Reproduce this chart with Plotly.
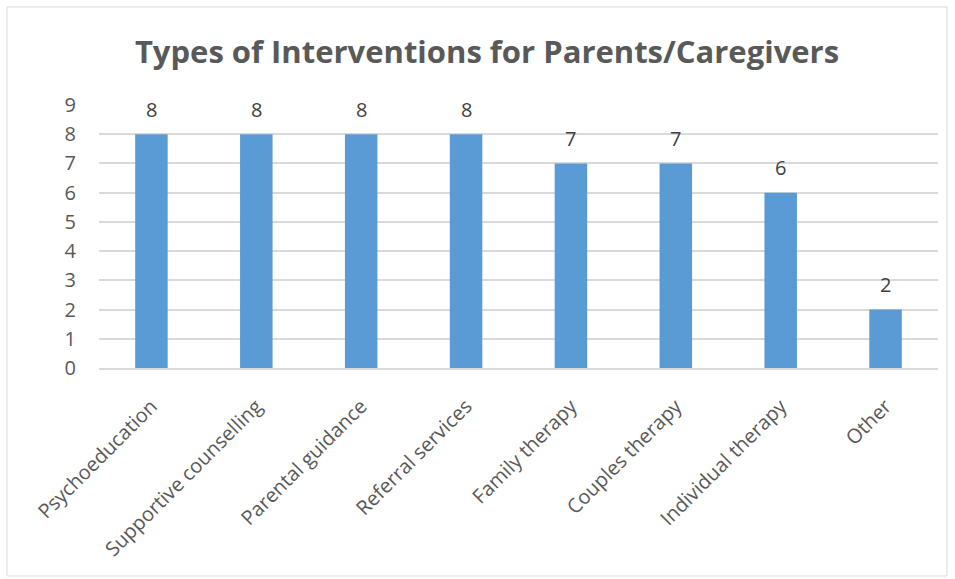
import plotly.graph_objects as go

categories = ["Psychoeducation", "Supportive counselling", "Parental guidance", "Referral services",
              "Family therapy", "Couples therapy", "Individual therapy", "Other"]
values = [8, 8, 8, 8, 7, 7, 6, 2]
y_ticks = list(range(0, 10))

fig = go.Figure()
fig.add_trace(go.Bar(x=categories, y=values, marker=dict(color="#5B9BD5", line=dict(width=0)),
                     hoverinfo="x+y"))

for c, v in zip(categories, values):
    fig.add_annotation(x=c, y=v, text=str(v), showarrow=False, yshift=25,
                       font=dict(family="Open Sans", size=20, color="#404040"))

W, H = 955, 579
ml, mr, mt, mb = 99, 17, 105, 211
pw, ph = W - ml - mr, H - mt - mb
def px(x): return (x - ml) / pw
def py(y): return (H - mb - y) / ph

fig.add_shape(type="rect", xref="paper", yref="paper",
              x0=px(7), x1=px(947), y0=py(576), y1=py(7),
              line=dict(color="#D9D9D9", width=1), fillcolor="rgba(0,0,0,0)", layer="below")

fig.update_layout(
    width=W, height=H,
    margin=dict(l=ml, r=mr, t=mt, b=mb),
    paper_bgcolor="white", plot_bgcolor="white",
    title=dict(text="<b>Types of Interventions for Parents/Caregivers</b>", x=487 / W, xanchor="center",
               xref="container", y=1 - 52 / H, yanchor="middle",
               font=dict(family="Open Sans", size=31, color="#595959")),
    bargap=0.69,
    showlegend=False,
    font=dict(family="Open Sans", color="#595959"),
)
fig.update_yaxes(range=[0, 9], tickvals=y_ticks, gridcolor="#D9D9D9", gridwidth=1.5,
                 zeroline=False, showline=False, ticklabelstandoff=22,
                 tickfont=dict(family="Open Sans", size=20, color="#595959"))
fig.update_xaxes(tickangle=-45, showline=True, linecolor="#D9D9D9", linewidth=1.5,
                 ticks="", ticklabelstandoff=17,
                 tickfont=dict(family="Open Sans", size=20, color="#595959"))

fig.write_html("out.html", config={"displayModeBar": False},
               post_script="document.body.style.margin='0';document.body.style.padding='0';")
